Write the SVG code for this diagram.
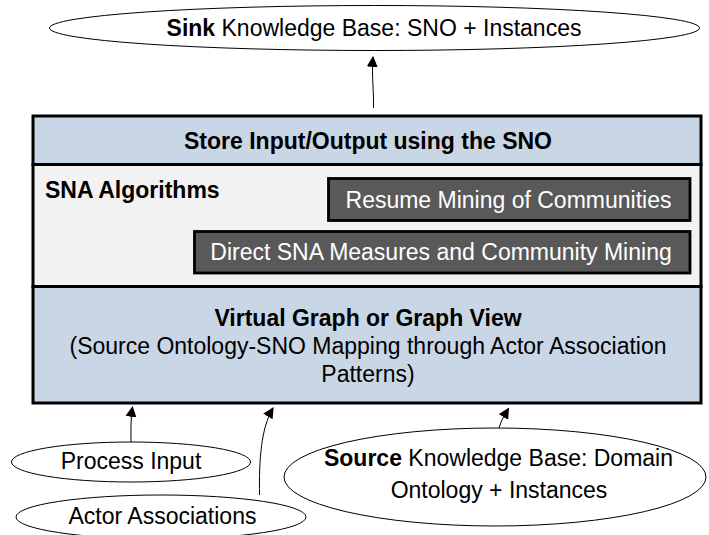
<svg xmlns="http://www.w3.org/2000/svg" width="709" height="535" viewBox="0 0 709 535">
  <defs>
    <marker id="arrow" viewBox="0 0 10 10" refX="9" refY="5" markerWidth="11" markerHeight="11" markerUnits="userSpaceOnUse" orient="auto">
      <path d="M0,0 L10,5 L0,10 z" fill="#000"/>
    </marker>
    <style>
      text { font-family: "Liberation Sans", Arial, sans-serif; fill: #000; font-size: 23px; }
      .b { font-weight: bold; }
      .mid { text-anchor: middle; }
      .w { fill: #fff; }
      .oval { fill: #fff; stroke: #000; stroke-width: 1; }
      .band { stroke: #000; stroke-width: 3; }
      .blue { fill: #c9d6e5; }
      .grey { fill: #f2f2f2; }
      .dark { fill: #595959; stroke: #000; stroke-width: 2.8; }
      .conn { fill: none; stroke: #000; stroke-width: 1; marker-end: url(#arrow); }
    </style>
  </defs>

  <!-- output knowledge base -->
  <g id="sink">
    <ellipse class="oval" cx="374.5" cy="28" rx="325" ry="22.5"/>
    <text class="mid" x="374" y="35.5"><tspan class="b">Sink</tspan> Knowledge Base: SNO + Instances</text>
  </g>

  <!-- layered processing stack -->
  <g id="store-layer">
    <rect class="band blue" x="33" y="116" width="668" height="48.5"/>
    <text class="b mid" x="368" y="148.5">Store Input/Output using the SNO</text>
  </g>

  <g id="sna-layer">
    <rect class="band grey" x="33" y="164.5" width="668" height="122"/>
    <text class="b" x="45" y="197.5">SNA Algorithms</text>
  </g>

  <g id="resume-mining">
    <rect class="dark" x="328.5" y="178.5" width="361.5" height="42"/>
    <text class="w mid" x="508.5" y="207.5">Resume Mining of Communities</text>
  </g>

  <g id="direct-measures">
    <rect class="dark" x="194.5" y="231.5" width="495.5" height="41.5"/>
    <text class="w mid" x="441" y="259.5">Direct SNA Measures and Community Mining</text>
  </g>

  <g id="graph-view">
    <rect class="band blue" x="33" y="286.5" width="668" height="116.5"/>
    <text class="b mid" x="368" y="326">Virtual Graph or Graph View</text>
    <text class="mid" x="368" y="354">(Source Ontology-SNO Mapping through Actor Association</text>
    <text class="mid" x="368" y="381.5">Patterns)</text>
  </g>

  <!-- inputs -->
  <g id="process-input">
    <ellipse class="oval" cx="131" cy="462" rx="119.5" ry="20"/>
    <text class="mid" x="131" y="468.5">Process Input</text>
  </g>

  <g id="actor-associations">
    <ellipse class="oval" cx="161" cy="517" rx="145" ry="22"/>
    <text class="mid" x="162.5" y="523.5">Actor Associations</text>
  </g>

  <g id="source">
    <ellipse class="oval" cx="495" cy="477" rx="211" ry="49"/>
    <text class="mid" x="498.5" y="466"><tspan class="b">Source</tspan> Knowledge Base: Domain</text>
    <text class="mid" x="499" y="498">Ontology + Instances</text>
  </g>

  <g id="connectors">
    <path class="conn" d="M373.5,108 C374,92 371.5,76 373,57"/>
    <path class="conn" d="M131,442 C131,430 130.5,420 132.5,407"/>
    <path class="conn" d="M259.5,495 C259,460 261,428 273,408"/>
    <path class="conn" d="M499,428 C501,421 504,416 508.5,408.5"/>
  </g>
</svg>
